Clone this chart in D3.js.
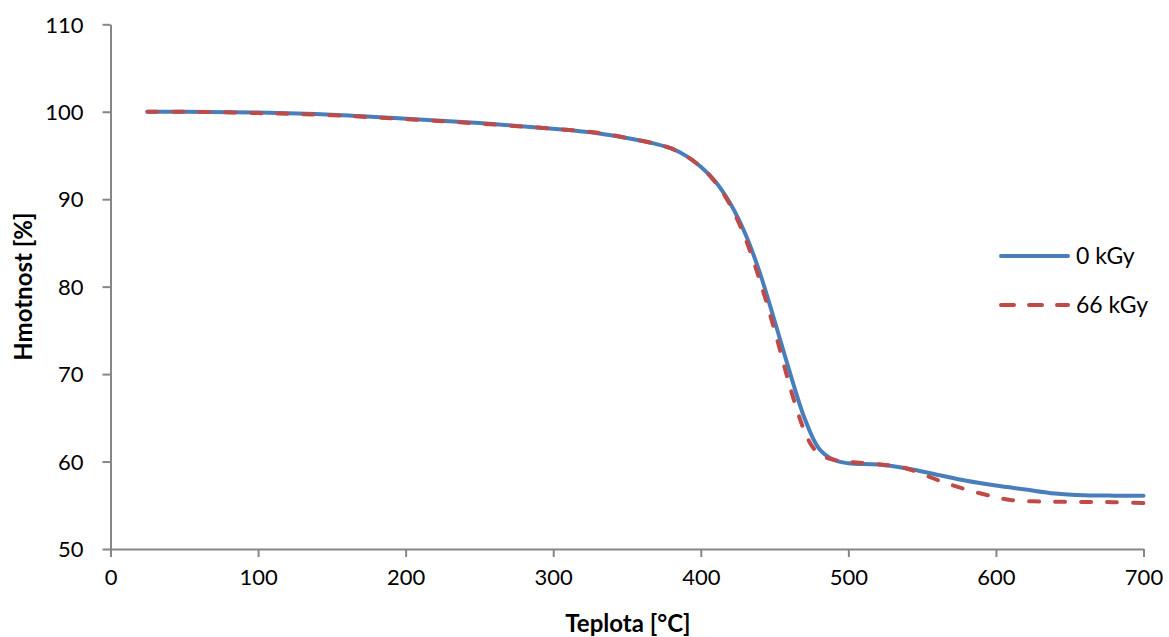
<!DOCTYPE html>
<html><head><meta charset="utf-8">
<script src="https://cdn.jsdelivr.net/npm/d3@7"></script>
<style>body{margin:0;background:#fff;} svg{display:block;font-family:Lato, "Open Sans", sans-serif;}</style>
</head><body>
<script>
const seriesNames = ["0 kGy", "66 kGy"];
const tempBlue = [25, 50, 100, 150, 200, 250, 300, 330, 350, 370, 380, 390, 400, 410, 420, 430, 440, 450, 460, 470, 480, 490, 500, 520, 540, 560, 580, 600, 620, 640, 660, 680, 700];
const massBlue = [100.0, 100.0, 99.9, 99.65, 99.2, 98.7, 98.05, 97.55, 97.0, 96.3, 95.8, 94.95, 93.7, 92.0, 89.5, 86.1, 81.6, 76.1, 70.4, 65.1, 61.5, 60.2, 59.8, 59.65, 59.2, 58.5, 57.8, 57.25, 56.8, 56.35, 56.15, 56.1, 56.1];
const tempRed = [25, 50, 100, 150, 200, 250, 300, 330, 350, 370, 380, 390, 400, 410, 420, 430, 440, 450, 460, 465, 470, 476, 482, 490, 500, 520, 535, 545, 555, 565, 580, 597, 610, 625, 640, 660, 680, 700];
const massRed = [100.0, 100.0, 99.85, 99.6, 99.15, 98.65, 98.05, 97.6, 97.0, 96.3, 95.8, 94.95, 93.7, 91.9, 89.3, 85.6, 80.7, 75.0, 68.8, 66.0, 63.6, 61.6, 60.7, 60.2, 59.95, 59.7, 59.4, 58.9, 58.25, 57.6, 56.8, 56.05, 55.6, 55.45, 55.4, 55.38, 55.35, 55.25];
const xTicks = [0, 100, 200, 300, 400, 500, 600, 700];
const yTicks = [50, 60, 70, 80, 90, 100, 110];
const xTitle = "Teplota [°C]";
const yTitle = "Hmotnost [%]";

const W = 1169, H = 637;
const svg = d3.select("body").append("svg").attr("width", W).attr("height", H);
const x = d3.scaleLinear().domain([0, 700]).range([110.5, 1143.5]);
const y = d3.scaleLinear().domain([50, 110]).range([549, 24.3]);
const axisColor = "#868686";

const xAxis = svg.append("g").attr("transform", `translate(0,${y(50)})`)
  .call(d3.axisBottom(x).tickValues(xTicks).tickSize(8).tickSizeOuter(0).tickPadding(12));
const yAxis = svg.append("g").attr("transform", `translate(${x(0)},0)`)
  .call(d3.axisLeft(y).tickValues(yTicks).tickSize(8).tickSizeOuter(0).tickPadding(19));
[xAxis, yAxis].forEach(a => {
  a.selectAll("path, line").attr("stroke", axisColor).attr("stroke-width", 2);
  a.selectAll("text").attr("fill", "#000").style("font-size", "22px").style("font-family", "Lato, 'Open Sans', sans-serif");
});
yAxis.selectAll("text").attr("dy", "0.35em");

const line = d3.line().x(d => x(d[0])).y(d => y(d[1])).curve(d3.curveCatmullRom.alpha(0.5));
const blue = tempBlue.map((t, i) => [t, massBlue[i]]);
const red = tempRed.map((t, i) => [t, massRed[i]]);
svg.append("path").datum(blue).attr("d", line).attr("fill", "none")
  .attr("stroke", "#4A7EBB").attr("stroke-width", 4).attr("stroke-linecap", "round");
svg.append("path").datum(red).attr("d", line).attr("fill", "none")
  .attr("stroke", "#BE4B48").attr("stroke-width", 4).attr("stroke-dasharray", "10,16").attr("stroke-linecap", "round");

// legend
const lg = svg.append("g");
const legY = [256, 305];
lg.append("line").attr("x1", 1001).attr("x2", 1068).attr("y1", legY[0]).attr("y2", legY[0])
  .attr("stroke", "#4A7EBB").attr("stroke-width", 4).attr("stroke-linecap", "round");
lg.append("line").attr("x1", 1001).attr("x2", 1068).attr("y1", legY[1]).attr("y2", legY[1])
  .attr("stroke", "#BE4B48").attr("stroke-width", 4).attr("stroke-dasharray", "13,15").attr("stroke-linecap", "round");
seriesNames.forEach((n, i) => {
  lg.append("text").attr("x", 1076).attr("y", legY[i]).attr("dy", "0.35em")
    .style("font-size", "23px").attr("fill", "#000").text(n);
});

svg.append("text").attr("x", (x(0) + x(700)) / 2 + 1).attr("y", 624).attr("dy", "0.35em")
  .attr("text-anchor", "middle").style("font-size", "24px").style("font-weight", "bold").text(xTitle);
svg.append("text").attr("transform", `translate(24,${(y(50) + y(110)) / 2}) rotate(-90)`).attr("dy", "0.35em")
  .attr("text-anchor", "middle").style("font-size", "24px").style("font-weight", "bold").text(yTitle);
</script>
</body></html>
